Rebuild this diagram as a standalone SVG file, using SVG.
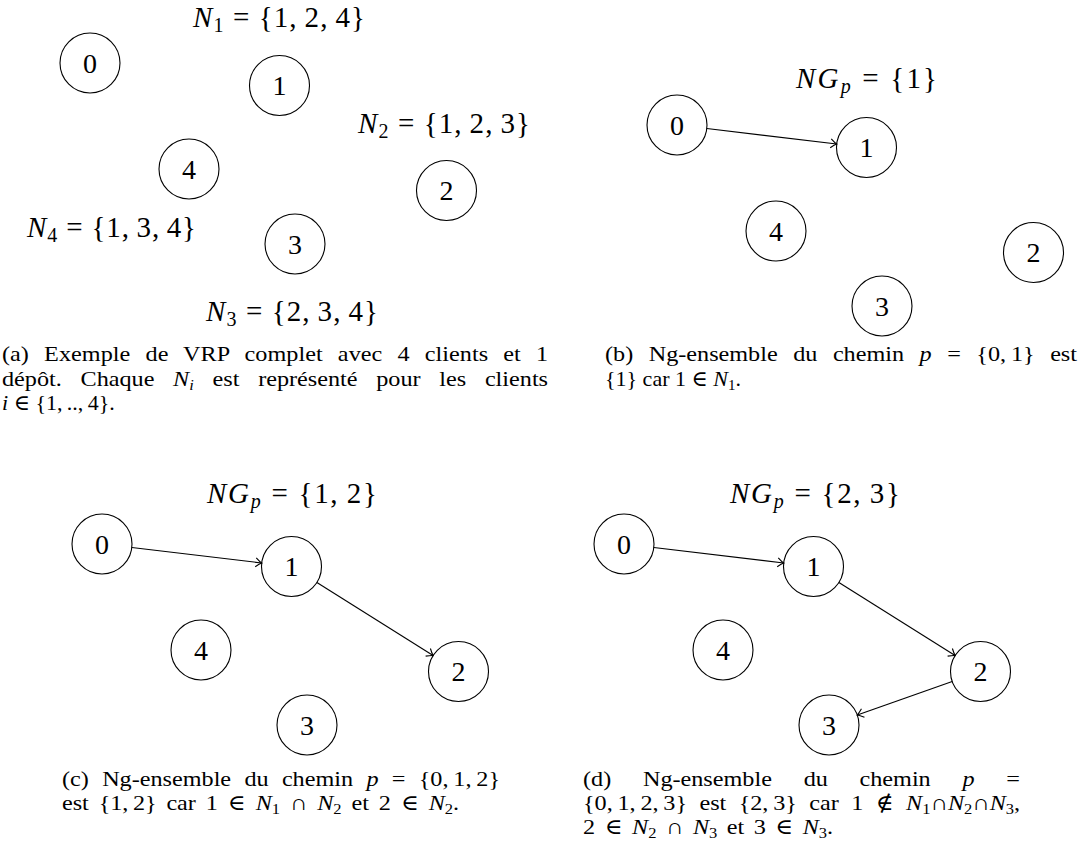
<svg xmlns="http://www.w3.org/2000/svg" width="1082" height="855" viewBox="0 0 1082 855">
<style>
  .node circle { fill: none; stroke: #000; stroke-width: 1.1; }
  .node text { font-family: "Liberation Serif", "DejaVu Serif", serif; font-size: 28px; text-anchor: middle; fill: #000; }
  .math { font-family: "Liberation Serif", "DejaVu Serif", serif; font-size: 29px; fill: #000; }
  .cap { font-family: "Liberation Serif", "DejaVu Serif", serif; font-size: 22px; fill: #000; }
  .i { font-style: italic; }
  .edge { stroke: #000; stroke-width: 1.1; fill: none; marker-end: url(#arr); }
</style>
<defs>
  <marker id="arr" markerUnits="userSpaceOnUse" markerWidth="12" markerHeight="12" viewBox="-8 -6 10 12" refX="0" refY="0" orient="auto" overflow="visible">
    <path d="M-6,-4.5 Q-2,-1 0,0 Q-2,1 -6,4.5" fill="none" stroke="#000" stroke-width="1.1"/>
  </marker>
</defs>

<!-- Panel (a) -->
<g id="panel-a">
  <g id="a-n0" class="node"><circle cx="90" cy="63" r="30"/><text x="90" y="72.5">0</text></g>
  <g id="a-n1" class="node"><circle cx="279.5" cy="85.5" r="30"/><text x="279.5" y="95">1</text></g>
  <g id="a-n2" class="node"><circle cx="446.5" cy="190.5" r="30"/><text x="446.5" y="200">2</text></g>
  <g id="a-n3" class="node"><circle cx="295" cy="244" r="30"/><text x="295" y="253.5">3</text></g>
  <g id="a-n4" class="node"><circle cx="189" cy="169" r="30"/><text x="189" y="178.5">4</text></g>
  <text class="math" x="193" y="27" textLength="172" lengthAdjust="spacing"><tspan class="i">N</tspan><tspan font-size="20" dy="5">1</tspan><tspan dy="-5"> = {1,&#x2009;2,&#x2009;4}</tspan></text>
  <text class="math" x="358" y="133" textLength="172" lengthAdjust="spacing"><tspan class="i">N</tspan><tspan font-size="20" dy="5">2</tspan><tspan dy="-5"> = {1,&#x2009;2,&#x2009;3}</tspan></text>
  <text class="math" x="27" y="237" textLength="169" lengthAdjust="spacing"><tspan class="i">N</tspan><tspan font-size="20" dy="5">4</tspan><tspan dy="-5"> = {1,&#x2009;3,&#x2009;4}</tspan></text>
  <text class="math" x="206" y="321" textLength="172" lengthAdjust="spacing"><tspan class="i">N</tspan><tspan font-size="20" dy="5">3</tspan><tspan dy="-5"> = {2,&#x2009;3,&#x2009;4}</tspan></text>
  <text class="cap" transform="translate(2,361) scale(1.1,1)" x="0" y="0" word-spacing="8.2" textLength="496.4" lengthAdjust="spacing">(a) Exemple de VRP complet avec 4 clients et 1</text>
  <text class="cap" transform="translate(2,386) scale(1.1,1)" x="0" y="0" word-spacing="11.5" textLength="496.4" lengthAdjust="spacing">dépôt. Chaque <tspan class="i">N</tspan><tspan class="i" font-size="15" dy="4">i</tspan><tspan dy="-4"> est représenté pour les clients</tspan></text>
  <text class="cap" x="2" y="410"><tspan class="i">i</tspan> ∈ {1,&#x2009;..,&#x2009;4}.</text>
</g>

<!-- Panel (b) -->
<g id="panel-b">
  <g id="b-n0" class="node"><circle cx="677" cy="125" r="30"/><text x="677" y="134.5">0</text></g>
  <g id="b-n1" class="node"><circle cx="866.5" cy="147.5" r="30"/><text x="866.5" y="157">1</text></g>
  <g id="b-n2" class="node"><circle cx="1033.5" cy="252.5" r="30"/><text x="1033.5" y="262">2</text></g>
  <g id="b-n3" class="node"><circle cx="882" cy="306" r="30"/><text x="882" y="315.5">3</text></g>
  <g id="b-n4" class="node"><circle cx="776" cy="231" r="30"/><text x="776" y="240.5">4</text></g>
  <text class="math" x="796" y="88" textLength="141" lengthAdjust="spacing"><tspan class="i">NG</tspan><tspan class="i" font-size="20" dy="5">p</tspan><tspan dy="-5"> = {1}</tspan></text>
  <text class="cap" transform="translate(605,361) scale(1.1,1)" x="0" y="0" word-spacing="8.6" textLength="429.1" lengthAdjust="spacing">(b) Ng-ensemble du chemin <tspan class="i">p</tspan> = {0,&#x2009;1} est</text>
  <text class="cap" x="605" y="386">{1} car 1 ∈ <tspan class="i">N</tspan><tspan font-size="15" dy="4">1</tspan><tspan dy="-4">.</tspan></text>
</g>

<!-- Panel (c) -->
<g id="panel-c">
  <g id="c-n0" class="node"><circle cx="102" cy="544" r="30"/><text x="102" y="553.5">0</text></g>
  <g id="c-n1" class="node"><circle cx="291.5" cy="566.5" r="30"/><text x="291.5" y="576">1</text></g>
  <g id="c-n2" class="node"><circle cx="458.5" cy="671.5" r="30"/><text x="458.5" y="681">2</text></g>
  <g id="c-n3" class="node"><circle cx="307" cy="725" r="30"/><text x="307" y="734.5">3</text></g>
  <g id="c-n4" class="node"><circle cx="201" cy="650" r="30"/><text x="201" y="659.5">4</text></g>
  <text class="math" x="207" y="503" textLength="170" lengthAdjust="spacing"><tspan class="i">NG</tspan><tspan class="i" font-size="20" dy="5">p</tspan><tspan dy="-5"> = {1,&#x2009;2}</tspan></text>
  <text class="cap" transform="translate(62,786) scale(1.1,1)" x="0" y="0" word-spacing="6.6" textLength="398.2" lengthAdjust="spacing">(c) Ng-ensemble du chemin <tspan class="i">p</tspan> = {0,&#x2009;1,&#x2009;2}</text>
  <text class="cap" transform="translate(62,810) scale(1.1,1)" x="0" y="0" word-spacing="3.7" textLength="360.9" lengthAdjust="spacing">est {1,&#x2009;2} car 1 ∈ <tspan class="i">N</tspan><tspan font-size="15" dy="4">1</tspan><tspan dy="-4"> ∩ </tspan><tspan class="i">N</tspan><tspan font-size="15" dy="4">2</tspan><tspan dy="-4"> et 2 ∈ </tspan><tspan class="i">N</tspan><tspan font-size="15" dy="4">2</tspan><tspan dy="-4">.</tspan></text>
</g>

<!-- Panel (d) -->
<g id="panel-d">
  <g id="d-n0" class="node"><circle cx="624" cy="544" r="30"/><text x="624" y="553.5">0</text></g>
  <g id="d-n1" class="node"><circle cx="813.5" cy="566.5" r="30"/><text x="813.5" y="576">1</text></g>
  <g id="d-n2" class="node"><circle cx="980.5" cy="671.5" r="30"/><text x="980.5" y="681">2</text></g>
  <g id="d-n3" class="node"><circle cx="829" cy="725" r="30"/><text x="829" y="734.5">3</text></g>
  <g id="d-n4" class="node"><circle cx="723" cy="650" r="30"/><text x="723" y="659.5">4</text></g>
  <text class="math" x="730" y="503" textLength="170" lengthAdjust="spacing"><tspan class="i">NG</tspan><tspan class="i" font-size="20" dy="5">p</tspan><tspan dy="-5"> = {2,&#x2009;3}</tspan></text>
  <text class="cap" transform="translate(583,786) scale(1.1,1)" x="0" y="0"><tspan x="0">(d)</tspan><tspan x="54.5">Ng-ensemble</tspan><tspan x="200.6">du</tspan><tspan x="251.4">chemin</tspan><tspan x="345" class="i">p</tspan><tspan x="384.8">=</tspan></text>
  <text class="cap" transform="translate(583,810) scale(1.1,1)" x="0" y="0" word-spacing="5.85" textLength="397.3" lengthAdjust="spacing">{0,&#x2009;1,&#x2009;2,&#x2009;3} est {2,&#x2009;3} car 1 ∉ <tspan class="i">N</tspan><tspan font-size="15" dy="4">1</tspan><tspan dy="-4">∩</tspan><tspan class="i">N</tspan><tspan font-size="15" dy="4">2</tspan><tspan dy="-4">∩</tspan><tspan class="i">N</tspan><tspan font-size="15" dy="4">3</tspan><tspan dy="-4">,</tspan></text>
  <text class="cap" transform="translate(583,834) scale(1.1,1)" x="0" y="0" word-spacing="3.4" textLength="227.3" lengthAdjust="spacing">2 ∈ <tspan class="i">N</tspan><tspan font-size="15" dy="4">2</tspan><tspan dy="-4"> ∩ </tspan><tspan class="i">N</tspan><tspan font-size="15" dy="4">3</tspan><tspan dy="-4"> et 3 ∈ </tspan><tspan class="i">N</tspan><tspan font-size="15" dy="4">3</tspan><tspan dy="-4">.</tspan></text>
</g>

<!-- Connectors -->
<g id="connectors">
  <line id="b-e01" class="edge" x1="706.8" y1="128.5" x2="836.7" y2="144"/>
  <line id="c-e01" class="edge" x1="131.8" y1="547.5" x2="261.7" y2="563"/>
  <line id="c-e12" class="edge" x1="316.9" y1="582.5" x2="433.1" y2="655.5"/>
  <line id="d-e01" class="edge" x1="653.8" y1="547.5" x2="783.7" y2="563"/>
  <line id="d-e12" class="edge" x1="838.9" y1="582.5" x2="955.1" y2="655.5"/>
  <line id="d-e23" class="edge" x1="952.2" y1="681.5" x2="857.3" y2="715"/>
</g>
</svg>
